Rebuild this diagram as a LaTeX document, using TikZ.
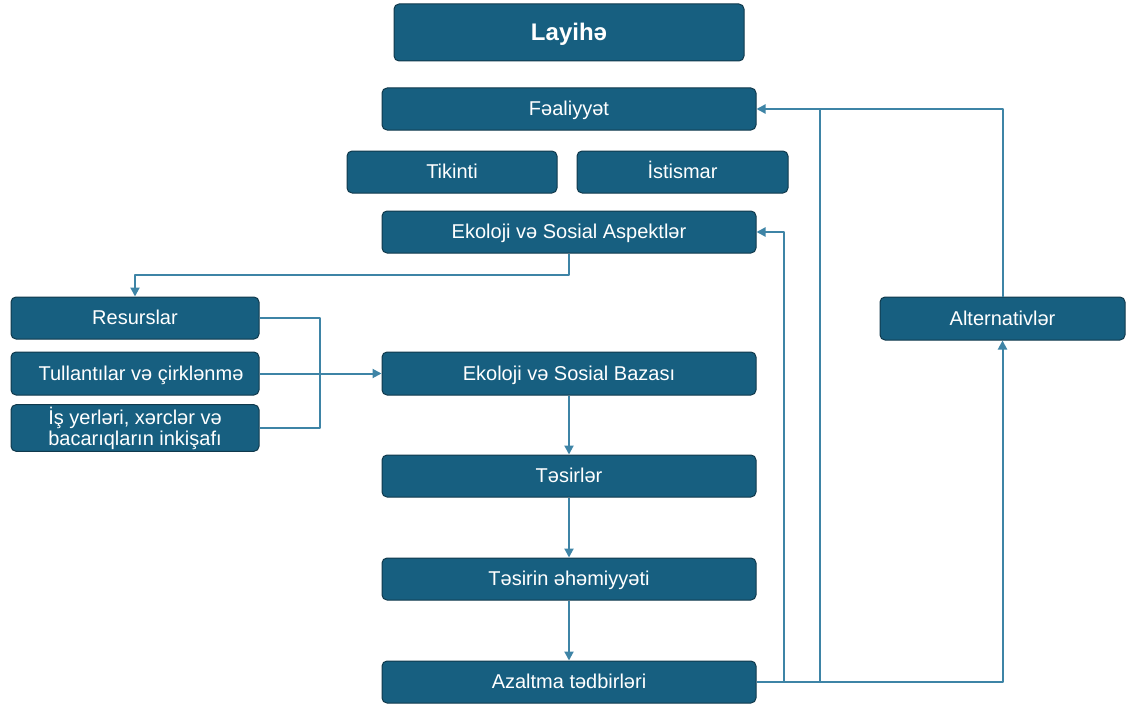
\documentclass[tikz,border=0pt]{standalone}
\usepackage{fontspec}
\setmainfont{Liberation Sans}
\usetikzlibrary{arrows.meta}
\definecolor{hopxanh}{HTML}{175F80}
\definecolor{vienhop}{HTML}{10394C}
\definecolor{duongnoi}{HTML}{3E84A6}
\begin{document}
\begin{tikzpicture}[x=1pt,y=-1pt,line join=round,font=\fontsize{20}{22}\selectfont,
	khung/.style={draw=vienhop,fill=hopxanh,text=white,line width=1pt,rounded corners=5pt,
		minimum width=374pt,minimum height=42pt,inner sep=2pt,align=center},
	hop/.style={khung,text height=14pt,text depth=1pt},
	hopnho/.style={hop,minimum width=248pt},
	noi/.style={draw=duongnoi,line width=2pt},
	mui/.style={noi,-{Triangle[length=9pt,width=9pt]}}]
	\def\cx{569} % truc giua
	\useasboundingbox (0,0) rectangle (1126,706);
	% cot giua
	\node[hop,minimum width=350pt,minimum height=57pt,text height=17pt,font=\fontsize{24}{28}\selectfont\bfseries] (layihe) at (\cx,32.5) {Layihə};
	\node[hop] (fealiyyet) at (\cx,109) {Fəaliyyət};
	\node[hop,minimum width=210pt] (tikinti) at (452,172) {Tikinti};
	\node[hop,minimum width=211pt] (istismar) at (682.5,172) {İstismar};
	\node[hop] (aspekt) at (\cx,232) {Ekoloji və Sosial Aspektlər};
	\node[hop,minimum height=43pt] (baza) at (\cx,373.5) {Ekoloji və Sosial Bazası};
	\node[hop] (tesir) at (\cx,476) {Təsirlər};
	\node[hop] (ehemiyyet) at (\cx,579) {Təsirin əhəmiyyəti};
	\node[hop] (azaltma) at (\cx,682) {Azaltma tədbirləri};
	% cot trai
	\node[hopnho] (resurs) at (135,318) {Resurslar};
	\node[hopnho,minimum height=43pt] (tullanti) at (135,373.5) {\hspace{12pt}Tullantılar və çirklənmə};
	\node[khung,minimum width=248pt,font=\fontsize{20}{21}\selectfont] (isyer) at (135,428) {İş yerləri, xərclər və\\bacarıqların inkişafı};
	% ben phai
	\node[hop,minimum width=245pt,minimum height=43pt] (altern) at (1002.5,318.5) {Alternativlər};
	\path (320,373.5) coordinate (J)
	(784,682) coordinate (R1)
	(820,682) coordinate (R2)
	(820,109) coordinate (T2);
	% cac duong noi
	\draw[mui] (aspekt.south) -- ++(0,21) -| (resurs.north);
	\draw[noi] (resurs.east) -| (J) |- (isyer.east);
	\draw[mui] (tullanti.east) -- (baza.west);
	\draw[mui] (baza) -- (tesir);
	\draw[mui] (tesir) -- (ehemiyyet);
	\draw[mui] (ehemiyyet) -- (azaltma);
	\draw[mui] (azaltma.east) -| (altern.south);
	\draw[mui] (R1) |- (aspekt.east);
	\draw[mui] (R2) |- (fealiyyet.east);
	\draw[noi] (altern.north) |- (T2);
\end{tikzpicture}
\end{document}
